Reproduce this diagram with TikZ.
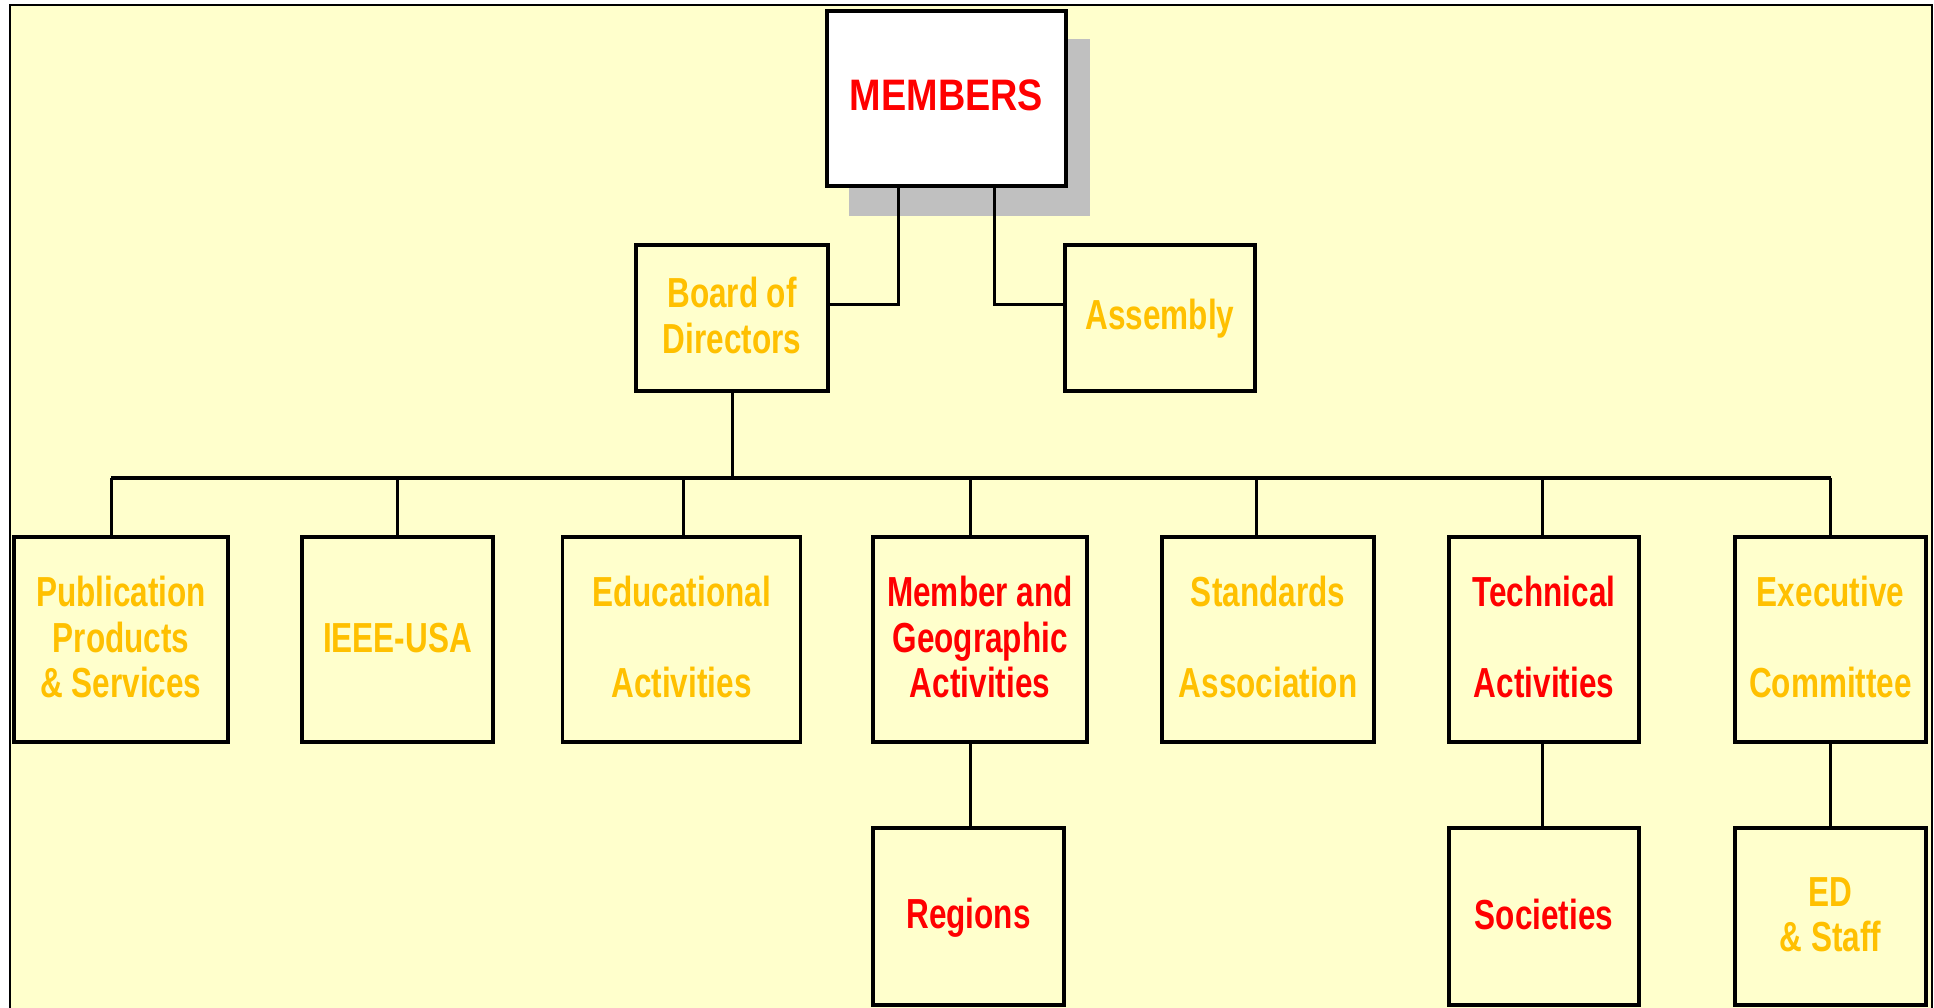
\documentclass[tikz,border=0pt]{standalone}
\usepackage{fontspec}
\setmainfont[FakeStretch=0.75]{Liberation Sans}
\definecolor{bgy}{HTML}{FFFFCC}
\definecolor{gold}{HTML}{FFC000}
\definecolor{ired}{HTML}{FF0000}
\definecolor{shadowgray}{HTML}{C0C0C0}
\newcommand{\ls}{\rule[-7pt]{0pt}{39pt}}
\tikzset{
  box/.style={draw=black, line width=3.4pt, rectangle, inner sep=0pt, align=center,
    font=\fontsize{42}{45.5}\selectfont\bfseries},
  goldtxt/.style={text=gold},
  redtxt/.style={text=ired},
  conn/.style={draw=black, line width=3pt},
  busline/.style={draw=black, line width=3.6pt}
}
\begin{document}
\begin{tikzpicture}[x=1pt,y=-1pt]
\useasboundingbox (0,0) rectangle (1934,1008);
\fill[white] (0,0) rectangle (1934,1008);
\draw[line width=2.2pt, fill=bgy] (10,5) rectangle (1932,1030);
% shadow and top node
\fill[shadowgray] (849,39) rectangle (1090,216);
\node[box, fill=white, redtxt, minimum width=239pt, minimum height=175pt] (members) at (946.5,98.5) {\raisebox{5pt}{\ls\scalebox{1.2}[1.05]{MEMBERS}}};
% second level
\node[box, goldtxt, minimum width=192pt, minimum height=146pt] (board) at (732,318) {\raisebox{2.5pt}{\ls Board of}\\\raisebox{2.5pt}{\ls Directors}};
\node[box, goldtxt, minimum width=190pt, minimum height=146pt] (assembly) at (1160,318) {\ls Assembly};
% third level
\node[box, goldtxt, minimum width=214pt, minimum height=205pt] (pub) at (121,639.5) {\ls Publication\\\ls Products\\\ls\& Services};
\node[box, goldtxt, minimum width=191pt, minimum height=205pt] (ieee) at (397.5,639.5) {\ls IEEE-USA};
\node[box, goldtxt, minimum width=238pt, minimum height=205pt] (edu) at (681.5,639.5) {\ls Educational\\[45.5pt]\ls Activities};
\node[box, redtxt, minimum width=214pt, minimum height=205pt] (mga) at (980,639.5) {\ls Member and\\\ls Geographic\\\ls Activities};
\node[box, goldtxt, minimum width=212pt, minimum height=205pt] (std) at (1268,639.5) {\ls Standards\\[45.5pt]\ls Association};
\node[box, redtxt, minimum width=190pt, minimum height=205pt] (tech) at (1544,639.5) {\ls Technical\\[45.5pt]\ls Activities};
\node[box, goldtxt, minimum width=191pt, minimum height=205pt] (exec) at (1830.5,639.5) {\ls Executive\\[45.5pt]\ls Committee};
% fourth level
\node[box, redtxt, minimum width=191pt, minimum height=177pt] (regions) at (968.5,916.5) {\ls Regions};
\node[box, redtxt, minimum width=190pt, minimum height=177pt] (soc) at (1544,916.5) {\ls Societies};
\node[box, goldtxt, minimum width=191pt, minimum height=177pt] (ed) at (1830.5,916.5) {\ls ED\\\ls\& Staff};
% connectors from members
\draw[conn] ([xshift=-48.5pt]members.south) |- ([yshift=14pt]board.east);
\draw[conn] ([xshift=48pt]members.south) |- ([yshift=14pt]assembly.west);
% bus
\coordinate (busL) at (111,477.7);
\coordinate (busR) at (1831,477.7);
\draw[busline] (busL) -- (busR);
\draw[conn] (board.south) -- (board.south |- busL);
\draw[conn] ([xshift=-10pt]pub.north) -- ([xshift=-10pt]pub.north |- busL);
\draw[conn] (ieee.north) -- (ieee.north |- busL);
\draw[conn] ([xshift=1.5pt]edu.north) -- ([xshift=1.5pt]edu.north |- busL);
\draw[conn] ([xshift=-10pt]mga.north) -- ([xshift=-10pt]mga.north |- busL);
\draw[conn] ([xshift=-12pt]std.north) -- ([xshift=-12pt]std.north |- busL);
\draw[conn] ([xshift=-2pt]tech.north) -- ([xshift=-2pt]tech.north |- busL);
\draw[conn] (exec.north) -- (exec.north |- busL);
% lower connectors
\draw[conn] ([xshift=-10pt]mga.south) -- ([xshift=-10pt]mga.south |- regions.north);
\draw[conn] ([xshift=-2pt]tech.south) -- ([xshift=-2pt]tech.south |- soc.north);
\draw[conn] (exec.south) -- (exec.south |- ed.north);
\end{tikzpicture}
\end{document}
